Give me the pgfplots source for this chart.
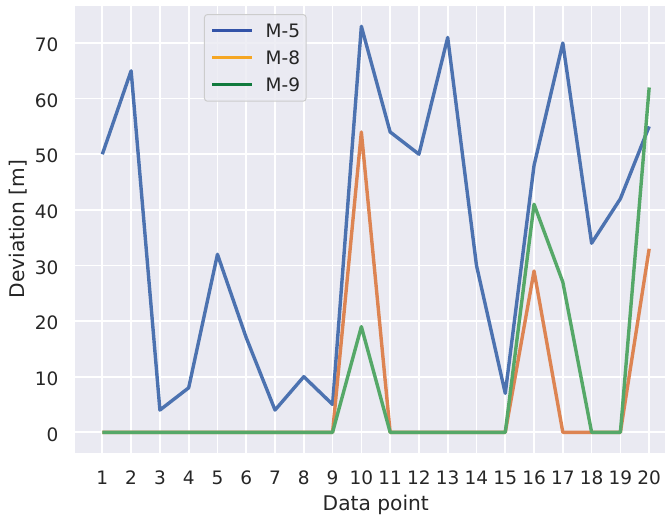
\documentclass[border=0pt]{standalone}
\usepackage{pgfplots}
\pgfplotsset{compat=1.18}
\usepackage{fontspec}
\setmainfont{DejaVu Sans}
\definecolor{bgc}{HTML}{EAEAF2}
\definecolor{txt}{HTML}{262626}
\definecolor{c1}{HTML}{4C72B0}
\definecolor{c2}{HTML}{DD8452}
\definecolor{c3}{HTML}{55A868}
\definecolor{lblue}{HTML}{3353A8}
\definecolor{lorange}{HTML}{F5A623}
\definecolor{lgreen}{HTML}{117A3D}
\definecolor{legedge}{HTML}{CCCCCC}
\begin{document}
\begin{tikzpicture}
\useasboundingbox (-75pt,-62.4pt) rectangle (590pt,452.6pt);
\begin{axis}[
  at={(0pt,0pt)}, anchor=south west,
  scale only axis, width=590pt, height=446.6pt,
  xmin=0.05, xmax=20.55, ymin=-3.65, ymax=76.65,
  xtick={1,2,...,20}, ytick={0,10,...,70},
  axis background/.style={fill=bgc},
  axis line style={draw=none},
  major tick length=0pt,
  grid=major, major grid style={white, line width=1.7pt},
  /pgf/number format/assume math mode=true,
  tick label style={font=\fontsize{18.5}{22}\selectfont, color=txt, inner sep=0pt},
  xticklabel style={anchor=base, yshift=-31.7pt},
  yticklabel style={anchor=east, xshift=-16.4pt, yshift=-2pt},
  xlabel={Data point}, ylabel={Deviation [m]},
  every axis x label/.style={at={([yshift=-57.4pt]axis description cs:0.5098,0)}, anchor=base, font=\fontsize{20.2}{24}\selectfont, color=txt, inner sep=0pt},
  every axis y label/.style={at={([xshift=-50.3pt]axis description cs:0,0.5)}, rotate=90, anchor=base, font=\fontsize{20.2}{24}\selectfont, color=txt, inner sep=0pt},
  legend cell align=left,
  legend image code/.code={\draw[#1, line width=3.2pt] (0pt,6.75pt) -- (40pt,6.75pt);},
  legend style={at={(axis description cs:0.2186,0.982)}, anchor=north west,
    fill=bgc, fill opacity=0.8, draw opacity=1, text opacity=1, draw=legedge,
    line width=1pt, rounded corners=3pt, inner xsep=6pt, inner ysep=9.6pt,
    row sep=13.5pt, column sep=12pt,
    font=\fontsize{18.5}{22}\selectfont, text=txt,
    nodes={inner sep=0pt, text height=13.5pt, text depth=0pt, anchor=base west}},
]
\addlegendimage{color=lblue}
\addlegendimage{color=lorange}
\addlegendimage{color=lgreen}
\addplot[color=c1, line width=3.4pt, line join=round, forget plot] coordinates {
(1,50) (2,65) (3,4) (4,8) (5,32) (6,17) (7,4) (8,10) (9,5) (10,73)
(11,54) (12,50) (13,71) (14,30) (15,7) (16,48) (17,70) (18,34) (19,42) (20,55)};
\addplot[color=c2, line width=3.4pt, line join=round, forget plot] coordinates {
(1,0) (2,0) (3,0) (4,0) (5,0) (6,0) (7,0) (8,0) (9,0) (10,54)
(11,0) (12,0) (13,0) (14,0) (15,0) (16,29) (17,0) (18,0) (19,0) (20,33)};
\addplot[color=c3, line width=3.4pt, line join=round, forget plot] coordinates {
(1,0) (2,0) (3,0) (4,0) (5,0) (6,0) (7,0) (8,0) (9,0) (10,19)
(11,0) (12,0) (13,0) (14,0) (15,0) (16,41) (17,27) (18,0) (19,0) (20,62)};
\legend{M-5\hspace{6.5pt}, M-8\hspace{6.5pt}, M-9\hspace{6.5pt}}
\end{axis}
\end{tikzpicture}
\end{document}
